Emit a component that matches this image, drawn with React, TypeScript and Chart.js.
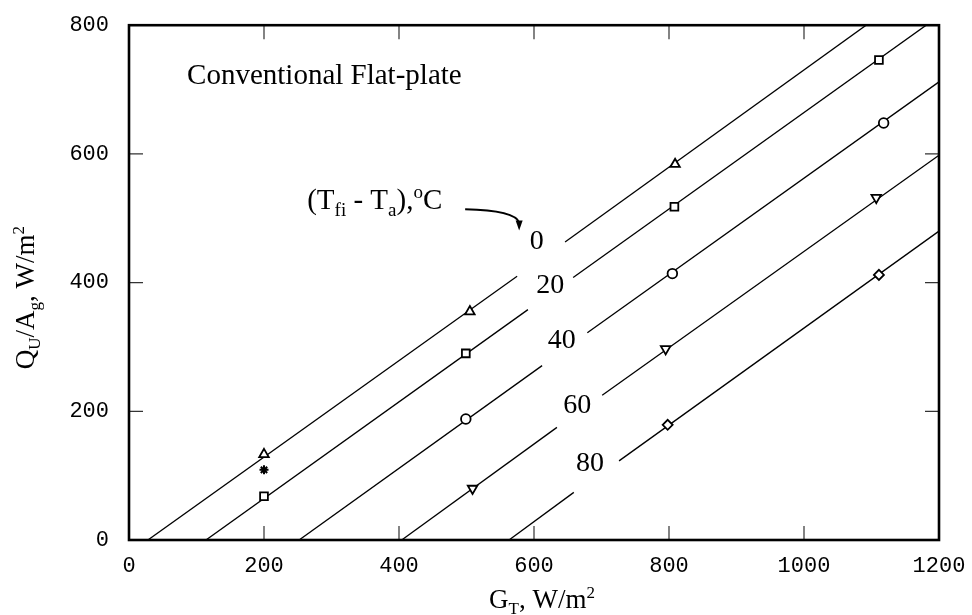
import React, { useEffect, useRef } from 'react';
import { Chart, registerables } from 'chart.js';

Chart.register(...registerables);

// ---- data (GT in W/m2, Qu/Ag in W/m2) ----
const xTicks = [0, 200, 400, 600, 800, 1000, 1200];
const yTicks = [0, 200, 400, 600, 800];
const tempDiffLabels = ['0', '20', '40', '60', '80'];

// lines (each split into two pieces around the label)
const line0Left = [[28, 0], [575, 410]];
const line0Right = [[646, 463], [1092, 800]];
const line20Left = [[114, 0], [591, 358]];
const line20Right = [[658, 408], [1181, 800]];
const line40Left = [[252, 0], [612, 271]];
const line40Right = [[679, 322], [1200, 712]];
const line60Left = [[404, 0], [634, 175]];
const line60Right = [[701, 225], [1200, 598]];
const line80Left = [[563, 0], [659, 74]];
const line80Right = [[726, 123], [1200, 480]];

// measured points
const points0 = [[200, 133], [505, 355], [809, 584]];
const points20 = [[200, 68], [499, 290], [808, 518], [1111, 746]];
const points40 = [[499, 188], [805, 414], [1118, 648]];
const points60 = [[509, 80], [795, 297], [1107, 532]];
const points80 = [[798, 179], [1111, 412]];
const pointsStar = [[200, 109]];

// label anchors (data units)
const labelAnchors = [[604, 464], [624, 395], [641, 310], [664, 209], [683, 119]];
const titleAnchor = [86, 709];
const legendAnchor = [264, 515];
const arrowStart = [498, 514];
const arrowCtrl = [572, 512];
const arrowTip = [578, 481];

const SERIF = '"Liberation Serif", "Times New Roman", serif';
const MONO = '"Liberation Mono", "Courier New", monospace';

const toXY = (arr: number[][]) => arr.map(([x, y]) => ({ x, y }));

type Part = { t: string; s?: 'sub' | 'sup' };

function drawRich(ctx: CanvasRenderingContext2D, parts: Part[], x: number, y: number, size: number, align: 'left' | 'center') {
  const small = Math.round(size * 0.64);
  const widths = parts.map((p) => {
    ctx.font = `${p.s ? small : size}px ${SERIF}`;
    return ctx.measureText(p.t).width;
  });
  const total = widths.reduce((a, b) => a + b, 0);
  let cx = align === 'center' ? x - total / 2 : x;
  ctx.textAlign = 'left';
  ctx.textBaseline = 'alphabetic';
  parts.forEach((p, i) => {
    ctx.font = `${p.s ? small : size}px ${SERIF}`;
    const dy = p.s === 'sub' ? size * 0.24 : p.s === 'sup' ? -size * 0.38 : 0;
    ctx.fillText(p.t, cx, y + dy);
    cx += widths[i];
  });
}

const decorPlugin = {
  id: 'decor',
  afterDraw(chart: any) {
    const { ctx, chartArea: a, scales } = chart;
    const sx = scales.x;
    const sy = scales.y;
    const px = (v: number) => sx.getPixelForValue(v);
    const py = (v: number) => sy.getPixelForValue(v);
    ctx.save();

    // inner ticks
    ctx.strokeStyle = '#333';
    ctx.lineWidth = 1.2;
    ctx.beginPath();
    xTicks.slice(1, -1).forEach((v) => {
      const X = px(v);
      ctx.moveTo(X, a.bottom);
      ctx.lineTo(X, a.bottom - 14);
      ctx.moveTo(X, a.top);
      ctx.lineTo(X, a.top + 14);
    });
    yTicks.slice(1, -1).forEach((v) => {
      const Y = py(v);
      ctx.moveTo(a.left, Y);
      ctx.lineTo(a.left + 14, Y);
      ctx.moveTo(a.right, Y);
      ctx.lineTo(a.right - 14, Y);
    });
    ctx.stroke();

    // frame
    ctx.strokeStyle = '#000';
    ctx.lineWidth = 2.6;
    ctx.strokeRect(a.left, a.top, a.right - a.left, a.bottom - a.top);

    ctx.fillStyle = '#000';
    // chart title inside
    drawRich(ctx, [{ t: 'Conventional Flat-plate' }], px(titleAnchor[0]), py(titleAnchor[1]), 29, 'left');
    // legend text
    drawRich(
      ctx,
      [{ t: '(T' }, { t: 'fi', s: 'sub' }, { t: ' - T' }, { t: 'a', s: 'sub' }, { t: '),' }, { t: 'o', s: 'sup' }, { t: 'C' }],
      px(legendAnchor[0]),
      py(legendAnchor[1]),
      29,
      'left'
    );
    // arrow
    const tx = px(arrowTip[0]);
    const ty = py(arrowTip[1]);
    ctx.lineWidth = 1.8;
    ctx.beginPath();
    ctx.moveTo(px(arrowStart[0]), py(arrowStart[1]));
    ctx.quadraticCurveTo(px(arrowCtrl[0]), py(arrowCtrl[1]), tx, ty - 8);
    ctx.stroke();
    ctx.beginPath();
    ctx.moveTo(tx, ty);
    ctx.lineTo(tx - 3.5, ty - 10);
    ctx.lineTo(tx + 3.5, ty - 10);
    ctx.closePath();
    ctx.fill();

    // line labels
    ctx.font = `28px ${SERIF}`;
    ctx.textAlign = 'center';
    ctx.textBaseline = 'middle';
    tempDiffLabels.forEach((t, i) => {
      ctx.fillText(t, px(labelAnchors[i][0]), py(labelAnchors[i][1]));
    });

    // axis titles
    drawRich(
      ctx,
      [{ t: 'G' }, { t: 'T', s: 'sub' }, { t: ', W/m' }, { t: '2', s: 'sup' }],
      (a.left + a.right) / 2 + 8,
      608,
      27,
      'center'
    );
    ctx.translate(34, (a.top + a.bottom) / 2 + 15);
    ctx.rotate(-Math.PI / 2);
    drawRich(
      ctx,
      [{ t: 'Q' }, { t: 'U', s: 'sub' }, { t: '/A' }, { t: 'g', s: 'sub' }, { t: ', W/m' }, { t: '2', s: 'sup' }],
      0,
      0,
      27,
      'center'
    );
    ctx.restore();
  },
};

function lineDs(arr: number[][]) {
  return {
    type: 'scatter' as const,
    data: toXY(arr),
    showLine: true,
    borderColor: '#000',
    borderWidth: 1.3,
    pointRadius: 0,
    fill: false,
    order: 2,
  };
}

function markerDs(arr: number[][], style: string, radius: number, rotation = 0, borderWidth = 1.8) {
  return {
    type: 'scatter' as const,
    data: toXY(arr),
    showLine: false,
    pointStyle: style,
    pointRadius: radius,
    pointRotation: rotation,
    pointBackgroundColor: '#fff',
    pointBorderColor: '#000',
    pointBorderWidth: borderWidth,
    order: 0,
  };
}

export default function App() {
  const ref = useRef<HTMLCanvasElement>(null);
  useEffect(() => {
    if (!ref.current) return;
    const chart = new Chart(ref.current, {
      type: 'scatter',
      data: {
        datasets: [
          markerDs(points0, 'triangle', 5.5),
          markerDs(points20, 'rect', 5.5),
          markerDs(points40, 'circle', 4.8),
          markerDs(points60, 'triangle', 5.5, 180),
          markerDs(points80, 'rectRot', 5),
          markerDs(pointsStar, 'star', 4.5, 0, 2),
          lineDs(line0Left),
          lineDs(line0Right),
          lineDs(line20Left),
          lineDs(line20Right),
          lineDs(line40Left),
          lineDs(line40Right),
          lineDs(line60Left),
          lineDs(line60Right),
          lineDs(line80Left),
          lineDs(line80Right),
        ] as any,
      },
      options: {
        responsive: false,
        animation: false,
        devicePixelRatio: 1,
        layout: { padding: { top: 23, right: 33, left: 0, bottom: 0 } },
        plugins: { legend: { display: false }, tooltip: { enabled: false } },
        scales: {
          x: {
            type: 'linear',
            min: 0,
            max: 1200,
            afterBuildTicks: (s: any) => {
              s.ticks = xTicks.map((v) => ({ value: v }));
            },
            afterFit: (s: any) => {
              s.height = 75;
            },
            grid: { display: false },
            border: { display: false },
            ticks: {
              font: { family: MONO, size: 22 },
              color: '#000',
              padding: 5,
              maxRotation: 0,
              callback: (v: any) => String(v),
            },
          },
          y: {
            type: 'linear',
            min: 0,
            max: 800,
            afterBuildTicks: (s: any) => {
              s.ticks = yTicks.map((v) => ({ value: v }));
            },
            afterFit: (s: any) => {
              s.width = 129;
            },
            grid: { display: false },
            border: { display: false },
            ticks: {
              font: { family: MONO, size: 22 },
              color: '#000',
              padding: 12,
              callback: (v: any) => String(v),
            },
          },
        },
      } as any,
      plugins: [decorPlugin],
    });
    return () => chart.destroy();
  }, []);
  return (
    <div style={{ position: 'fixed', left: 0, top: 0, width: 972, height: 615, background: '#fff' }}>
      <canvas ref={ref} width={972} height={615} style={{ width: 972, height: 615, display: 'block' }} />
    </div>
  );
}
